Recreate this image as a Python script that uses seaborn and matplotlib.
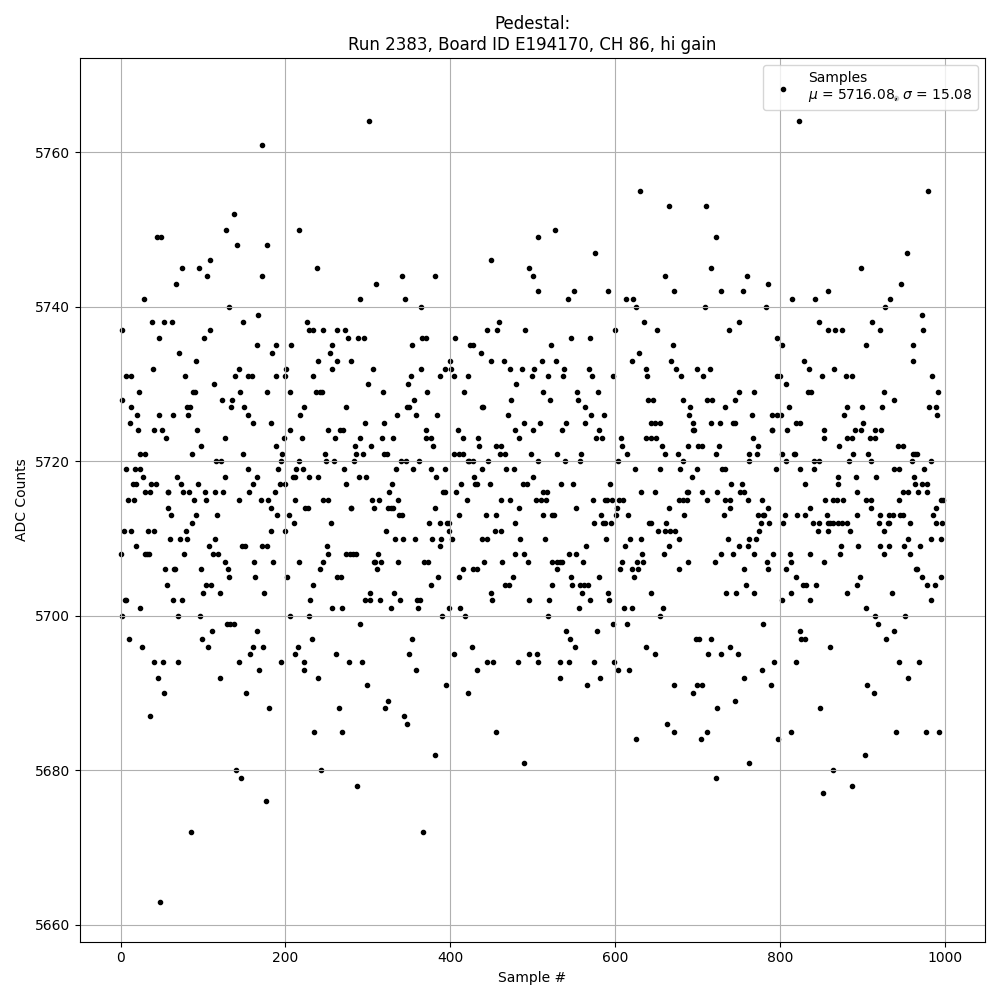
# -*- coding: utf-8 -*-
import pandas as pd
import seaborn as sns
import matplotlib.pyplot as plt

# ADC value of each row, highest first
adc_levels = [
	5767, 5764, 5761, 5755, 5753, 5752, 5750, 5749, 5748, 5747, 5746,
	5745, 5744, 5743, 5742, 5741, 5740, 5739, 5738, 5737, 5736,
	5735, 5734, 5733, 5732, 5731, 5730, 5729, 5728, 5727, 5726,
	5725, 5724, 5723, 5722, 5721, 5720, 5719, 5718, 5717, 5716,
	5715, 5714, 5713, 5712, 5711, 5710, 5709, 5708, 5707, 5706,
	5705, 5704, 5703, 5702, 5701, 5700, 5699, 5698, 5697, 5696,
	5695, 5694, 5693, 5692, 5691, 5690, 5689, 5688, 5687, 5686,
	5685, 5684, 5682, 5681, 5680, 5679, 5678, 5677, 5676, 5672,
	5663,
]

# Sample numbers for each entry of adc_levels
samples_at_level = [
	[941],
	[301, 823],
	[172],
	[630, 980],
	[666, 710],
	[137],
	[128, 217, 527],
	[44, 49, 507, 722],
	[141, 178],
	[576, 954],
	[108, 450],
	[74, 95, 238, 495, 717, 899],
	[105, 172, 341, 381, 500, 661, 760],
	[67, 310, 785, 947],
	[507, 550, 591, 672, 729, 755, 858],
	[28, 290, 345, 543, 613, 622, 815, 843, 934],
	[132, 365, 626, 709, 783, 928],
	[167, 972],
	[38, 52, 62, 149, 226, 459, 635, 751, 848, 912],
	[1, 108, 228, 234, 245, 262, 272, 444, 457, 491, 600, 651, 738, 859, 867, 875, 922, 974],
	[46, 101, 276, 288, 295, 366, 370, 406, 546, 570, 796],
	[165, 189, 207, 257, 354, 424, 428, 522, 670, 802, 905, 961],
	[71, 184, 254, 437, 629],
	[91, 239, 263, 279, 400, 450, 465, 511, 528, 620, 668, 829, 961],
	[39, 144, 201, 256, 306, 365, 394, 401, 472, 487, 502, 538, 568, 637, 674, 700, 715, 835, 866],
	[6, 12, 78, 139, 154, 159, 188, 200, 234, 352, 388, 405, 422, 499, 518, 537, 572, 598, 639, 680, 707, 797, 800, 851, 880, 887, 985],
	[113, 300, 349, 480, 808],
	[22, 88, 90, 145, 177, 206, 237, 242, 244, 318, 372, 417, 512, 554, 579, 750, 769, 834, 838, 926, 992],
	[2, 123, 135, 356, 474, 521, 555, 640, 646, 683, 711, 718, 746, 938],
	[12, 80, 84, 134, 150, 223, 273, 348, 350, 439, 440, 563, 691, 733, 811, 881, 900, 924, 981, 990],
	[20, 46, 63, 82, 155, 218, 335, 359, 384, 470, 571, 587, 690, 766, 790, 796, 801, 878, 991],
	[11, 160, 183, 296, 320, 490, 509, 541, 563, 644, 648, 655, 695, 717, 727, 743, 746, 819, 825, 901],
	[21, 40, 50, 93, 205, 252, 266, 270, 371, 409, 478, 501, 535, 580, 695, 696, 790, 791, 809, 853, 891, 898, 915, 923],
	[55, 126, 198, 220, 260, 291, 317, 330, 371, 377, 415, 434, 484, 577, 584, 607, 638, 644, 650, 767, 854, 882, 887, 909, 915],
	[98, 189, 284, 304, 379, 435, 456, 461, 609, 657, 688, 701, 706, 726, 773, 872, 943, 949],
	[23, 29, 87, 149, 196, 248, 285, 294, 320, 323, 404, 411, 416, 460, 467, 498, 529, 559, 615, 661, 676, 723, 762, 772, 802, 817, 818, 889, 907, 961, 964, 967],
	[116, 122, 195, 217, 249, 259, 283, 340, 346, 362, 421, 423, 428, 446, 507, 539, 557, 604, 682, 763, 807, 842, 847, 884, 911, 960, 983],
	[6, 17, 24, 154, 191, 213, 221, 271, 334, 355, 376, 394, 439, 468, 477, 624, 655, 679, 700, 730, 734, 795, 824, 841, 939, 945, 975],
	[27, 68, 127, 166, 209, 212, 229, 240, 289, 298, 383, 429, 501, 693, 871, 892, 917, 963],
	[15, 18, 37, 43, 73, 94, 161, 193, 199, 274, 329, 413, 430, 433, 448, 488, 493, 534, 549, 594, 741, 754, 830, 870, 964, 973, 979],
	[30, 35, 57, 58, 76, 83, 102, 115, 124, 156, 187, 326, 391, 393, 407, 512, 517, 632, 648, 687, 689, 705, 724, 752, 757, 894, 950, 955, 968, 978],
	[9, 16, 89, 104, 143, 170, 179, 212, 245, 252, 305, 313, 337, 420, 462, 473, 504, 510, 516, 573, 588, 590, 596, 605, 610, 677, 683, 687, 712, 734, 740, 761, 778, 855, 864, 869, 877, 904, 910, 944, 995, 998],
	[57, 182, 224, 227, 279, 280, 307, 324, 328, 330, 382, 483, 552, 602, 665, 739, 785, 836, 910, 989],
	[61, 91, 117, 190, 204, 338, 341, 411, 443, 455, 513, 523, 526, 583, 601, 616, 684, 732, 774, 779, 781, 806, 821, 831, 857, 893, 921, 932, 937, 946, 949, 986],
	[87, 210, 255, 374, 388, 396, 398, 479, 574, 585, 588, 595, 641, 644, 662, 777, 787, 804, 840, 847, 859, 861, 864, 870, 876, 882, 920, 931, 933, 958, 990, 997],
	[4, 13, 33, 40, 79, 183, 200, 322, 399, 454, 462, 652, 660, 667, 673, 775, 846, 858, 885, 926],
	[60, 72, 80, 115, 333, 343, 357, 378, 389, 402, 438, 445, 485, 515, 589, 618, 632, 678, 737, 762, 771, 956, 984, 995],
	[18, 107, 147, 151, 171, 178, 250, 387, 565, 612, 666, 751, 761, 874, 895, 921, 932, 951, 970],
	[0, 29, 32, 34, 77, 112, 118, 251, 273, 278, 282, 285, 312, 479, 490, 544, 552, 633, 659, 728, 743, 768, 792, 812, 837, 873, 926, 958],
	[127, 162, 185, 216, 246, 307, 309, 316, 337, 368, 373, 441, 463, 494, 523, 530, 533, 535, 561, 609, 627, 634, 689, 721, 784, 813, 853],
	[54, 65, 66, 98, 130, 242, 311, 416, 427, 433, 530, 606, 621, 628, 678, 757, 786, 807, 965, 966],
	[132, 163, 202, 262, 267, 385, 410, 476, 546, 580, 623, 819, 897, 972, 996],
	[56, 104, 110, 233, 377, 466, 471, 524, 548, 557, 562, 567, 759, 828, 832, 844, 893, 978, 988],
	[100, 120, 174, 302, 332, 449, 560, 591, 643, 735, 747, 768, 813, 881, 936],
	[5, 7, 63, 74, 230, 296, 302, 315, 339, 360, 363, 451, 496, 520, 570, 593, 803, 836, 983],
	[23, 256, 268, 328, 361, 399, 412, 556, 611, 621, 658, 904],
	[1, 69, 96, 206, 229, 390, 418, 518, 654, 916, 952],
	[129, 133, 138, 290, 598, 615, 780, 919],
	[111, 166, 540, 578, 824, 938],
	[10, 99, 232, 354, 545, 698, 702, 716, 826, 830, 929],
	[26, 106, 161, 173, 215, 426, 551, 638, 740, 861],
	[157, 211, 261, 350, 405, 496, 505, 649, 713, 729, 749],
	[41, 51, 69, 144, 195, 223, 277, 293, 445, 452, 482, 506, 533, 544, 574, 599, 793, 820, 944, 969],
	[168, 222, 359, 432, 604, 617, 778],
	[45, 121, 240, 533, 582, 756, 955],
	[299, 395, 566, 672, 699, 706, 789, 906],
	[52, 152, 422, 694, 914],
	[324, 745],
	[180, 265, 321, 724, 849],
	[35, 344],
	[348, 663],
	[235, 268, 456, 671, 712, 814, 941, 977, 993],
	[626, 704, 798],
	[382, 903],
	[489, 763],
	[140, 243, 865],
	[146, 723],
	[287, 888],
	[852],
	[176],
	[85, 367],
	[48],
]

title_text = 'Pedestal:\nRun 2383, Board ID E194170, CH 86, hi gain'
legend_text = 'Samples\n$\\mu$ = 5716.08, $\\sigma$ = 15.08'

# Long table with one row per sample
data = pd.DataFrame({'adc': adc_levels, 'sample': samples_at_level}).explode('sample')
data['sample'] = data['sample'].astype(int)
data = data.sort_values('sample')

fig, ax = plt.subplots(figsize=(10, 10), dpi=100)
sns.scatterplot(data=data, x='sample', y='adc', color='black', marker='.', s=36,
	edgecolor='black', linewidth=1, label=legend_text, ax=ax)
ax.set_xlim(-49.95, 1048.95)
ax.set_xlabel('Sample #')
ax.set_ylabel('ADC Counts')
ax.set_title(title_text)
ax.grid(True)
ax.legend(loc='upper right')
plt.tight_layout()
plt.savefig('out.png')
